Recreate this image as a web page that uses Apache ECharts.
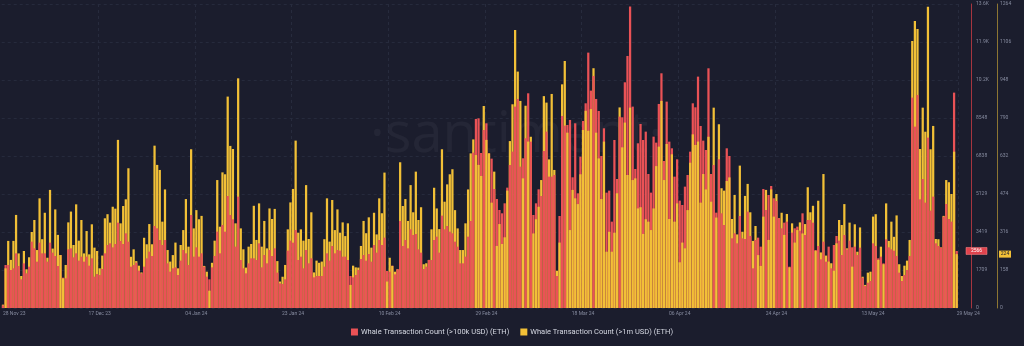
<!DOCTYPE html>
<html><head><meta charset="utf-8">
<script src="https://cdn.jsdelivr.net/npm/echarts@6/dist/echarts.min.js"></script>
<style>html,body{margin:0;padding:0;background:#1b1d2d;}#c{width:1024px;height:346px;}</style>
</head><body><div id="c"></div>
<script>
// ---- data (12h points, 28 Nov 23 12:00 -> 29 May 24 00:00) ----
const startUTC = Date.UTC(2023, 10, 28, 12);
const pointCount = 366;
const redName = 'Whale Transaction Count (>100k USD) (ETH)';
const yellowName = 'Whale Transaction Count (>1m USD) (ETH)';
const redValues = [120,1935,1935,1710,1785,2460,1890,1290,2010,1560,1860,2985,2685,2085,2940,2460,2460,2085,2940,2490,
2340,1890,2385,1365,1335,2640,2685,2280,2460,2130,2310,2085,2310,1905,2235,1410,1530,1485,1755,2460,
2835,2910,2730,2880,3840,3015,2880,3360,2985,1860,1935,2040,1680,1560,1860,2235,2535,2340,3690,3585,
3060,2835,3060,2010,1635,1785,1830,1485,2130,2610,2460,1935,4185,2310,2730,2310,2460,1860,1410,1290,
1830,2340,3435,2460,3735,3435,5040,4185,3990,2760,5010,2160,1785,1560,2010,2235,2235,2160,2910,1830,
2385,2010,2610,2340,2685,1590,1110,1080,1290,2580,3030,2940,3510,2160,2310,1785,2610,2010,2235,1380,
1440,1440,1440,1860,2460,2130,2790,2460,2610,2580,2310,2310,2160,1440,1380,1485,1710,2205,2385,2130,
2430,2085,2835,2490,3060,2835,3165,1665,1635,1905,1515,1740,3915,2790,3060,2685,3540,3285,3330,2640,
2490,1755,1860,2160,2160,3060,3210,2490,4155,3540,3690,3435,3360,2985,2760,2010,2010,2310,3210,3915,
6990,8505,8535,6975,8010,8310,6960,6720,5355,4905,4410,4260,4710,5415,6435,7035,9060,9405,6360,6735,
7635,9660,7485,4185,4710,5340,5040,7065,7935,5910,5910,5985,1440,4140,8640,8205,8235,8460,5880,8310,
5160,6810,8415,9210,11490,9780,10440,9405,8865,6840,8085,5190,5280,3885,7560,5805,8610,8580,10155,11340,
13560,9060,6255,7410,8280,7560,7935,6030,5190,7710,7440,9180,10560,6615,9285,7485,7185,5910,6690,4830,
4635,5460,5985,7035,9210,9030,10410,8190,7530,7110,10785,6030,6435,4290,6690,4260,3735,7185,6840,3135,
3360,2910,4140,3135,3105,4335,3240,1785,3060,3165,2760,5355,4410,5085,5490,4935,4815,4035,3585,3840,
3885,1860,3390,3585,3660,3480,4260,3285,3960,3960,3840,2610,2790,2190,2985,2085,2760,1785,2835,3240,
3030,2385,3285,2640,3030,2730,2760,2385,2715,1365,990,1140,1215,2910,2790,2235,2310,2010,3090,2730,
2640,2580,2340,1590,1215,1485,1710,2340,9465,8160,9585,4890,5805,4740,7665,4380,5010,2910,2790,2715,
4110,4680,4005,3885,9690,2566];
const yellowValues = [14,165,279,200,279,387,227,133,237,161,211,316,366,241,456,286,396,209,491,247,
410,304,220,123,179,356,401,262,431,280,366,227,320,223,348,251,237,165,218,373,
390,355,421,413,699,352,424,452,581,213,244,195,176,148,292,265,349,265,675,595,
574,359,493,241,193,220,272,165,262,324,453,255,660,331,407,369,383,175,151,72,
188,280,532,338,564,556,879,674,661,352,955,331,244,168,255,266,425,283,435,255,
362,248,414,370,412,195,110,130,179,327,439,495,696,313,327,280,511,287,398,148,
197,188,193,286,456,276,449,324,410,313,356,299,352,96,176,169,168,258,362,311,
377,251,396,306,456,394,563,110,209,175,151,161,606,424,453,362,511,398,567,366,
419,182,186,200,327,500,414,328,660,442,514,556,577,407,331,241,241,352,493,643,
701,636,595,549,840,699,643,438,567,258,349,266,294,488,694,847,1156,983,861,539,
841,692,712,310,369,421,532,881,854,618,890,574,155,272,930,1027,729,324,491,456,
432,556,740,820,737,827,997,729,622,453,692,234,317,234,313,477,834,668,771,553,
833,532,539,414,419,308,369,359,324,414,590,671,861,532,682,370,639,359,435,190,
272,248,407,604,722,678,692,438,557,493,712,442,833,376,764,498,488,528,543,370,
470,306,592,317,466,516,398,279,341,220,175,380,491,283,493,380,474,373,396,304,
391,169,352,272,324,356,310,349,502,398,425,238,446,231,557,218,193,186,155,269,
366,345,432,248,355,172,348,234,335,130,96,147,151,380,390,200,255,182,435,279,
359,296,385,182,133,176,197,283,1110,1193,1160,661,833,733,1253,660,757,287,286,252,
383,532,523,474,650,224];
const xTickIndex = [0,37,74,111,148,185,222,259,296,333,365];
const xTickLabels = ['28 Nov 23','17 Dec 23','04 Jan 24','23 Jan 24','10 Feb 24','29 Feb 24','18 Mar 24','06 Apr 24','24 Apr 24','13 May 24','29 May 24'];
const redTickLabels = ['0','1709','3419','5129','6838','8548','10.2K','11.9K','13.6K'];
const yellowTickLabels = ['0','158','316','474','632','790','948','1106','1264'];
const redMax = 13677.6, redStep = 1709.7;
const yellowMax = 1264, yellowStep = 158;

// ---- build ----
const categories = [];
for (let i = 0; i < pointCount; i++) {
  const d = new Date(startUTC + i * 12 * 3600 * 1000);
  categories.push(d.toISOString().slice(0, 16));
}
const RED = '#ea5256', YEL = '#f2c037';
const redBack = [], redFront = [], yelBack = [], yelFront = [];
for (let i = 0; i < pointCount; i++) {
  const r = redValues[i], y = yellowValues[i];
  if (r / redMax >= y / yellowMax) {
    redBack.push(r); redFront.push('-'); yelBack.push('-'); yelFront.push(y);
  } else {
    redBack.push('-'); redFront.push(r); yelBack.push(y); yelFront.push('-');
  }
}
const tickSet = new Set(xTickIndex);
const axisFont = {fontSize: 5, color: '#868b9f', fontFamily: 'Roboto'};
const barBase = {type: 'bar', barGap: '-100%', barCategoryGap: '14%', silent: true, animation: false};
const watermark = {type: 'text', left: 370, top: 108, z: -10, silent: true,
  style: {text: '·santiment·', fontSize: 56, fontFamily: 'Open Sans', fill: 'rgba(255,255,255,0.045)'}};

const chart = echarts.init(document.getElementById('c'), null, {renderer: 'canvas'});
chart.setOption({
  backgroundColor: '#1b1d2d',
  animation: false,
  grid: {left: 0, right: 66, top: 4, bottom: 38},
  legend: {
    bottom: 5, left: 'center', icon: 'rect', itemWidth: 7, itemHeight: 7, itemGap: 11,
    textStyle: {color: '#d5d8e2', fontSize: 7.5, fontFamily: 'Roboto', padding: [0, 0, 0, -2]},
    data: [{name: redName, itemStyle: {color: RED}}, {name: yellowName, itemStyle: {color: YEL}}]
  },
  xAxis: {
    type: 'category', data: categories, boundaryGap: true,
    axisLine: {show: false}, axisTick: {show: false},
    axisLabel: Object.assign({
      interval: (idx) => tickSet.has(idx),
      formatter: (v, idx) => { const k = xTickIndex.indexOf(idx); return k >= 0 ? xTickLabels[k] : ''; },
      margin: 3, alignMinLabel: 'left', alignMaxLabel: 'left'
    }, axisFont),
    splitLine: {show: true, interval: (idx) => tickSet.has(idx) && idx !== 0 && idx !== 365,
      lineStyle: {color: '#272b3d', type: [3, 3], width: 1}}
  },
  yAxis: [
    {type: 'value', position: 'right', offset: 13, min: 0, max: redMax, interval: redStep,
      axisLine: {show: true, lineStyle: {color: '#a6353f', width: 1}}, axisTick: {show: false},
      axisLabel: Object.assign({formatter: (v, i) => redTickLabels[i], margin: 5}, axisFont),
      splitLine: {show: true, lineStyle: {color: '#262a3c', type: [3, 3], width: 1}}},
    {type: 'value', position: 'right', offset: 39, min: 0, max: yellowMax, interval: yellowStep,
      axisLine: {show: true, lineStyle: {color: '#8d7633', width: 1}}, axisTick: {show: false},
      axisLabel: Object.assign({formatter: (v, i) => yellowTickLabels[i], margin: 3}, axisFont),
      splitLine: {show: false}}
  ],
  graphic: [watermark],
  series: [
    Object.assign({name: redName, yAxisIndex: 0, data: redBack, itemStyle: {color: RED}}, barBase),
    Object.assign({name: yellowName, yAxisIndex: 1, data: yelBack, itemStyle: {color: YEL}}, barBase),
    Object.assign({name: redName, yAxisIndex: 0, data: redFront, itemStyle: {color: RED}}, barBase),
    Object.assign({name: yellowName, yAxisIndex: 1, data: yelFront, itemStyle: {color: YEL}}, barBase)
  ]
});

// current-value badges on the axes
const lastRed = redValues[pointCount - 1], lastYel = yellowValues[pointCount - 1];
const ry = chart.convertToPixel({yAxisIndex: 0}, lastRed);
const yy = chart.convertToPixel({yAxisIndex: 1}, lastYel);
chart.setOption({graphic: [
  watermark,
  {type: 'rect', shape: {x: 966, y: ry - 3.5, width: 21, height: 7}, style: {fill: '#e0434d', stroke: '#ff8a8a', lineWidth: 0.5}, z: 20},
  {type: 'text', x: 976.5, y: ry, z: 21, style: {text: String(lastRed), fontSize: 5, fontFamily: 'Roboto', fill: '#ffffff', align: 'center', verticalAlign: 'middle'}},
  {type: 'rect', shape: {x: 999, y: yy - 3.5, width: 12, height: 7}, style: {fill: '#f2c037'}, z: 20},
  {type: 'text', x: 1005, y: yy, z: 21, style: {text: String(lastYel), fontSize: 5, fontFamily: 'Roboto', fill: '#1b1d2d', align: 'center', verticalAlign: 'middle'}}
]}, {replaceMerge: ['graphic']});
</script>
</body></html>
